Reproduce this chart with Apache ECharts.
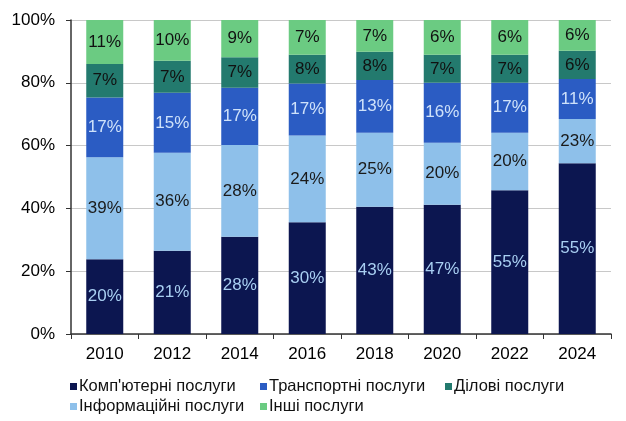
<!DOCTYPE html>
<html>
<head>
<meta charset="utf-8">
<script src="https://cdn.jsdelivr.net/npm/echarts@6/dist/echarts.min.js"></script>
<style>
  html, body { margin: 0; padding: 0; background: #fff; }
  #chart { width: 626px; height: 421px; }
</style>
</head>
<body>
<div id="chart"></div>
<script>
const years = ['2010', '2012', '2014', '2016', '2018', '2020', '2022', '2024']

// bar heights as drawn (%)
const compHeights = [23.8, 26.5, 31, 35.6, 40.5, 41.2, 45.8, 54.4]
const infoHeights = [32.5, 31.2, 29.2, 27.6, 23.6, 19.7, 18.3, 14.1]
const transHeights = [19, 19.1, 18.2, 16.6, 16.8, 19.1, 15.9, 12.7]
const bizHeights = [10.7, 10.2, 9.7, 9.1, 9, 8.9, 8.9, 9]
const otherHeights = [14, 13, 11.9, 11.1, 10.1, 11.1, 11.1, 9.8]

// printed labels (%)
const compLabels = [20, 21, 28, 30, 43, 47, 55, 55]
const infoLabels = [39, 36, 28, 24, 25, 20, 20, 23]
const transLabels = [17, 15, 17, 17, 13, 16, 17, 11]
const bizLabels = [7, 7, 7, 8, 8, 7, 7, 6]
const otherLabels = [11, 10, 9, 7, 7, 6, 6, 6]

const yTicks = [0, 20, 40, 60, 80, 100]

const font = 'Liberation Sans, Arial, sans-serif'

function makeSeries(name, heights, labels, color, labelColor) {
  return {
    name: name,
    type: 'bar',
    stack: 'total',
    barWidth: 37,
    itemStyle: { color: color },
    label: {
      show: true,
      position: 'inside',
      color: labelColor,
      fontFamily: font,
      fontSize: 17,
      formatter: (p) => labels[p.dataIndex] + '%',
    },
    data: heights,
  }
}

function legendAt(name, left, top) {
  return {
    data: [name],
    left: left,
    top: top,
    itemWidth: 7,
    itemHeight: 7,
    itemGap: 0,
    icon: 'rect',
    textStyle: { fontFamily: font, fontSize: 16.5, color: '#111', padding: [0, 0, 0, -3] },
  }
}

const chart = echarts.init(document.getElementById('chart'))
chart.setOption({
  animation: false,
  textStyle: { fontFamily: font },
  legend: [
    legendAt("Комп'ютерні послуги", 65, 373),
    legendAt('Транспортні послуги', 255, 373),
    legendAt('Ділові послуги', 440, 373),
    legendAt('Інформаційні послуги', 65, 393),
    legendAt('Інші послуги', 255, 393),
  ],
  grid: { left: 71, right: 15, top: 20, bottom: 87 },
  xAxis: {
    type: 'category',
    data: years,
    axisLine: { lineStyle: { color: '#333', width: 1.5 } },
    axisTick: { show: true, length: 5, lineStyle: { color: '#333' } },
    axisLabel: { color: '#000', fontSize: 17, margin: 12, fontFamily: font },
  },
  yAxis: {
    type: 'value',
    min: yTicks[0],
    max: yTicks[yTicks.length - 1],
    interval: 20,
    axisLine: { show: true, lineStyle: { color: '#333', width: 1.5 } },
    axisTick: { show: true, length: 5, lineStyle: { color: '#333' } },
    axisLabel: { color: '#000', fontSize: 17, margin: 16, fontFamily: font, formatter: '{value}%' },
    splitLine: { lineStyle: { color: '#c8c8c8' } },
  },
  series: [
    makeSeries("Комп'ютерні послуги", compHeights, compLabels, '#0c1650', '#a9cff2'),
    makeSeries('Інформаційні послуги', infoHeights, infoLabels, '#8ec0ea', '#1a1a1a'),
    makeSeries('Транспортні послуги', transHeights, transLabels, '#2b5cc3', '#cfe2fa'),
    makeSeries('Ділові послуги', bizHeights, bizLabels, '#237a6e', '#111'),
    makeSeries('Інші послуги', otherHeights, otherLabels, '#6bcb82', '#111'),
  ],
})
</script>
</body>
</html>
